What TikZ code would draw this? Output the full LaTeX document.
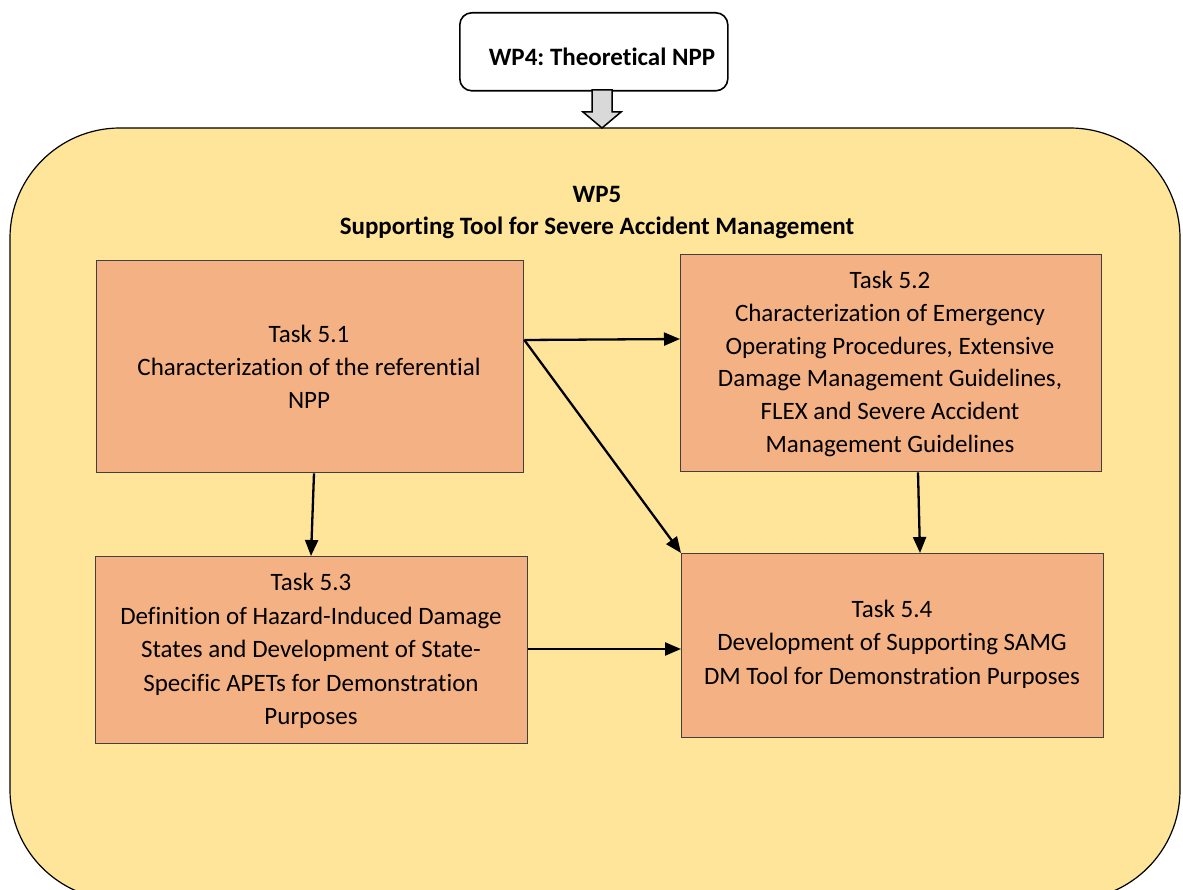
\documentclass[tikz,border=0pt]{standalone}
\usepackage{fontspec}
\setmainfont[Ligatures=NoCommon]{Carlito}
\usetikzlibrary{arrows.meta}
\definecolor{wpyellow}{HTML}{FFE599}
\definecolor{taskorange}{HTML}{F4B183}
\definecolor{arrowgray}{HTML}{D9D9D9}
\definecolor{boxedge}{HTML}{404040}
\frenchspacing
\tikzset{
  taskbox/.style={draw=boxedge, line width=1.3pt, fill=taskorange, inner sep=0pt, anchor=north west},
  tasktext/.style={align=center, inner sep=0pt},
  flow/.style={line width=2.3pt, -{Triangle[length=16pt,width=13pt]}},
}
\begin{document}
\begin{tikzpicture}[x=1pt,y=-1pt]
\useasboundingbox (0,0) rectangle (1183,890);
% WP5 container
\draw[fill=wpyellow, line width=1.2pt, rounded corners=110pt] (10,128) rectangle (1180,900);
% WP4 box
\node[draw, line width=1.6pt, rounded corners=12pt, fill=white, minimum width=268pt, minimum height=78pt,
  anchor=north west, inner sep=0pt] (wp4) at (459,12) {};
\node[font=\fontsize{25}{30}\selectfont\bfseries] (wp4t) at (602,57) {WP4: Theoretical NPP};
% block arrow
\draw[fill=arrowgray, line width=1.5pt] (592,90) -- (612,90) -- (612,112) -- (621,112) -- (602,128) -- (583,112) -- (592,112) -- cycle;
% WP5 title
\node[font=\fontsize{25}{32}\selectfont\bfseries, align=center] (wp5) at (597,213) {WP5\\Supporting Tool for Severe Accident Management};
% tasks
\node[taskbox, minimum width=427pt, minimum height=212pt] (t1) at (96,260) {};
\node[tasktext, font=\fontsize{25}{33}\selectfont] (t1t) at (309,367) {Task 5.1\\Characterization of the referential\\NPP};
\node[taskbox, minimum width=421pt, minimum height=217pt] (t2) at (680,254) {};
\node[tasktext, font=\fontsize{25}{32.8}\selectfont] (t2t) at (890,364) {Task 5.2\\Characterization of Emergency\\Operating Procedures, Extensive\\Damage Management Guidelines,\\FLEX and Severe Accident\\Management Guidelines};
\node[taskbox, minimum width=432pt, minimum height=187pt] (t3) at (95,556) {};
\node[tasktext, font=\fontsize{25}{33.5}\selectfont] (t3t) at (311,651) {Task 5.3\\Definition of Hazard-Induced Damage\\States and Development of State-\\Specific APETs for Demonstration\\Purposes};
\node[taskbox, minimum width=422pt, minimum height=184pt] (t4) at (681,553) {};
\node[tasktext, font=\fontsize{25}{33.5}\selectfont] (t4t) at (892,644) {Task 5.4\\Development of Supporting SAMG\\DM Tool for Demonstration Purposes};
% connectors
\coordinate (a1) at (t1.north east |- 0,340);
\draw[flow] (a1) -- (t2.west |- 0,339);
\draw[flow] (a1) -- (t4.north west);
\draw[flow] (t1.south -| 314,0) -- (t3.north -| 311,0);
\draw[flow] (t2.south -| 918,0) -- (t4.north -| 920,0);
\draw[flow] (t3.east |- 0,649) -- (t4.west |- 0,649);
\end{tikzpicture}
\end{document}
